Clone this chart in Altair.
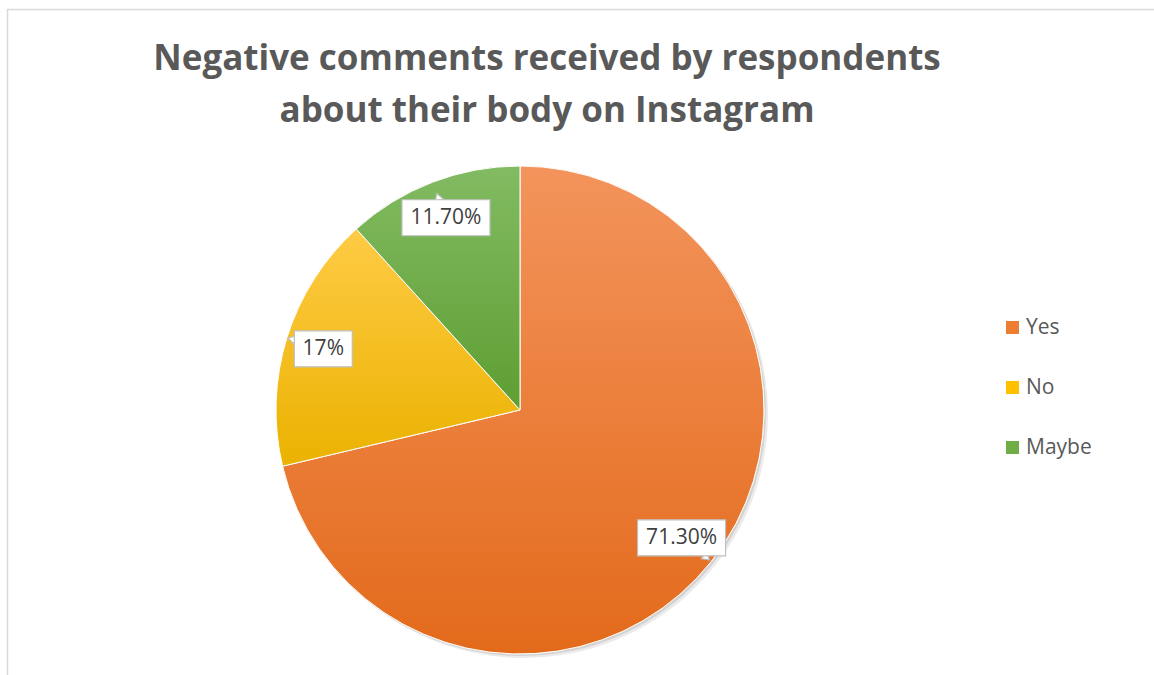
import altair as alt
import pandas as pd

categories = ["Yes", "No", "Maybe"]
values = [71.3, 17.0, 11.7]
labels = ["71.30%", "17%", "11.70%"]
base_colors = ["#ED7D31", "#FFC000", "#70AD47"]
grad_top = ["#F3945C", "#FFCB45", "#82BB62"]
grad_bottom = ["#E36A1B", "#EAB200", "#5E9E32"]
title_lines = ["Negative comments received by respondents", "about their body on Instagram"]

df = pd.DataFrame({"category": categories, "value": values, "label": labels,
                   "order": list(range(len(categories)))})

W, H = 1154, 675
CX, CY, R = 520, 410, 244
LR = 206


def grad(top, bottom):
    return {"gradient": "linear", "x1": 0, "y1": 0, "x2": 0, "y2": 1,
            "stops": [{"offset": 0, "color": top}, {"offset": 1, "color": bottom}]}


base = alt.Chart(df).encode(
    theta=alt.Theta("value:Q", stack=True),
    order=alt.Order("order:Q"),
)

shadow1 = base.mark_arc(radius=R, fill="#000000", opacity=0.08).encode(
    x=alt.value(CX + 4), y=alt.value(CY + 4))
shadow2 = base.mark_arc(radius=R, fill="#000000", opacity=0.10).encode(
    x=alt.value(CX + 2), y=alt.value(CY + 2))

pie = base.mark_arc(radius=R, stroke="white", strokeWidth=1).encode(
    x=alt.value(CX), y=alt.value(CY),
    color=alt.Color("category:N",
                    scale=alt.Scale(domain=categories, range=base_colors),
                    sort=categories,
                    legend=alt.Legend(title=None, orient="none", legendX=1002, legendY=317,
                                      symbolType="square", symbolSize=170,
                                      symbolStrokeWidth=0,
                                      labelFontSize=21, labelFont="Open Sans",
                                      labelColor="#595959", rowPadding=38,
                                      labelOffset=3)),
)

conds = [{"test": f"datum.category === '{c}'", "value": grad(t, b)}
         for c, t, b in zip(categories[:-1], grad_top[:-1], grad_bottom[:-1])]
fill_def = {"condition": conds, "value": grad(grad_top[-1], grad_bottom[-1])}

pie_grad = base.mark_arc(radius=R, stroke="white", strokeWidth=1).encode(
    x=alt.value(CX), y=alt.value(CY), fill=fill_def)

lab = alt.Chart(df).transform_joinaggregate(
    total="sum(value)"
).transform_window(
    cum="sum(value)", sort=[alt.SortField("order")]
).transform_calculate(
    mid="(datum.cum - datum.value/2) / datum.total * 2 * PI",
).transform_calculate(
    lx=f"{CX} + {LR} * sin(datum.mid)",
    ly=f"{CY} - {LR} * cos(datum.mid)",
    bw="length(datum.label) * 10 + 28",
    deg="datum.mid * 180 / PI",
).transform_calculate(
    bx1="datum.lx - datum.bw/2", bx2="datum.lx + datum.bw/2",
    by1="datum.ly - 18", by2="datum.ly + 18",
    tt="min(datum.bw/2 / max(abs(sin(datum.mid)), 0.001), 18 / max(abs(cos(datum.mid)), 0.001)) + 3",
).transform_calculate(
    tx="datum.lx + datum.tt * sin(datum.mid)",
    ty="datum.ly - datum.tt * cos(datum.mid)",
)

tails = lab.mark_point(shape="triangle-up", filled=True, fill="white", stroke="#BFBFBF",
                       strokeWidth=1.2, size=70, opacity=1).encode(
    x=alt.X("tx:Q", scale=None, axis=None),
    y=alt.Y("ty:Q", scale=None, axis=None),
    angle=alt.Angle("deg:Q", scale=None),
)
boxes = lab.mark_rect(fill="white", stroke="#BFBFBF", strokeWidth=1.2).encode(
    x=alt.X("bx1:Q", scale=None, axis=None), x2="bx2:Q",
    y=alt.Y("by1:Q", scale=None, axis=None), y2="by2:Q",
)
texts = lab.mark_text(fontSize=21, font="Open Sans", color="#404040",
                      align="center", baseline="middle").encode(
    x=alt.X("lx:Q", scale=None, axis=None),
    y=alt.Y("ly:Q", scale=None, axis=None),
    text="label:N",
)

one = pd.DataFrame({"a": [0]})
frame_top = alt.Chart(one).mark_rule(color="#D9D9D9", strokeWidth=1.5).encode(
    x=alt.value(7), x2=alt.value(W), y=alt.value(9.5))
frame_left = alt.Chart(one).mark_rule(color="#D9D9D9", strokeWidth=1.5).encode(
    x=alt.value(7.5), y=alt.value(9), y2=alt.value(H))

t1 = alt.Chart(one).mark_text(text=title_lines[0], fontSize=35, fontWeight="bold",
                              font="Open Sans", color="#595959", align="center",
                              baseline="alphabetic").encode(x=alt.value(547), y=alt.value(70))
t2 = alt.Chart(one).mark_text(text=title_lines[1], fontSize=35, fontWeight="bold",
                              font="Open Sans", color="#595959", align="center",
                              baseline="alphabetic").encode(x=alt.value(547), y=alt.value(122))

chart = alt.layer(frame_top, frame_left, t1, t2, shadow1, shadow2, pie, pie_grad,
                  tails, boxes, texts).properties(
    width=W, height=H, padding=0, autosize=alt.AutoSizeParams(type="none"),
    background="white",
).configure_view(stroke=None)

chart.save("out.html", embed_options={"renderer": "svg", "actions": False})
